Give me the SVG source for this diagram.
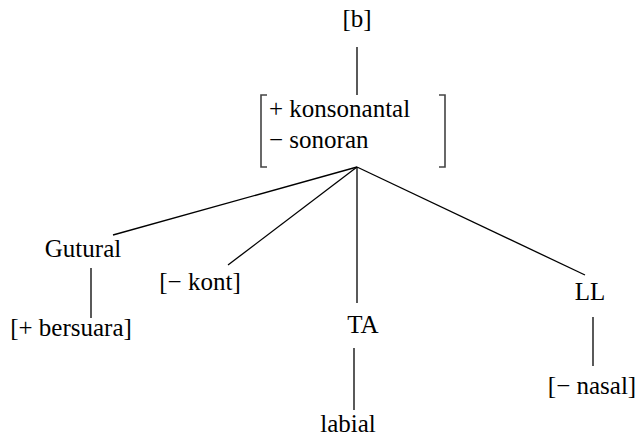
<svg xmlns="http://www.w3.org/2000/svg" width="638" height="437" viewBox="0 0 638 437">
<style>
text.t{font-family:'Liberation Serif','Times New Roman',serif;font-size:25px;fill:#000;text-anchor:middle}
text.s{text-anchor:start}
#connectors line{stroke:#000;stroke-width:1.3}
.br{fill:none;stroke:#444;stroke-width:1.6}
</style>
<rect width="638" height="437" fill="#fff"/>
<g id="connectors">
<line x1="357" y1="47" x2="357" y2="95"/>
<line x1="357" y1="167" x2="113" y2="235"/>
<line x1="357" y1="167" x2="228" y2="265"/>
<line x1="357" y1="167" x2="357" y2="303"/>
<line x1="357" y1="167" x2="585" y2="275"/>
<line x1="91" y1="268" x2="91" y2="318"/>
<line x1="354" y1="348" x2="354" y2="410"/>
<line x1="593" y1="317" x2="593" y2="366"/>
</g>
<g id="n-b"><text class="t" x="357" y="27">[b]</text></g>
<g id="n-matrix">
<path class="br" d="M267 95 H261 V167 H267 M439 95 H445 V167 H439"/>
<text class="t s" x="269" y="117">+ konsonantal</text>
<text class="t s" x="269" y="148">&#8722; sonoran</text>
</g>
<g id="n-gutural"><text class="t" x="83" y="257">Gutural</text></g>
<g id="n-bersuara"><text class="t" x="71" y="336">[+ bersuara]</text></g>
<g id="n-kont"><text class="t" x="200" y="290">[&#8722; kont]</text></g>
<g id="n-ta"><text class="t" x="363" y="333">TA</text></g>
<g id="n-labial"><text class="t" x="348" y="432">labial</text></g>
<g id="n-ll"><text class="t" x="590" y="300">LL</text></g>
<g id="n-nasal"><text class="t" x="592" y="394">[&#8722; nasal]</text></g>
</svg>
